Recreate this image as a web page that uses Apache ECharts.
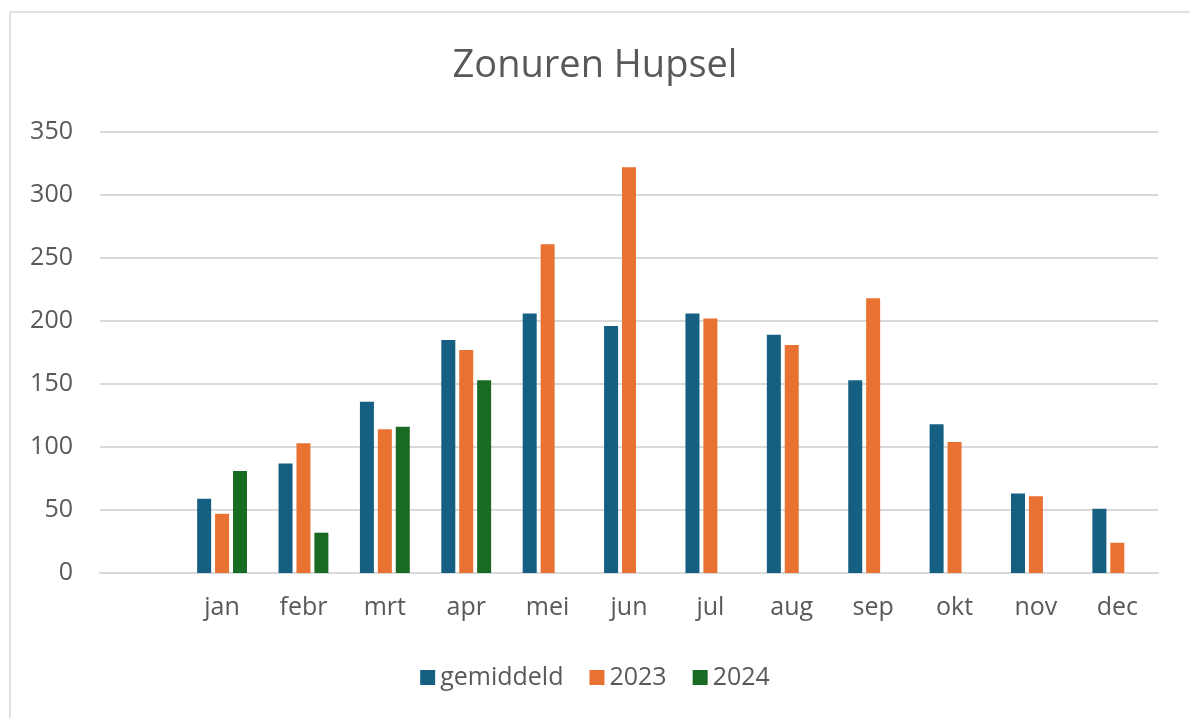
<!DOCTYPE html>
<html lang="nl">
<head>
<meta charset="UTF-8">
<title>Zonuren Hupsel</title>
<style>
html, body { margin: 0; padding: 0; background: #fff; }
#chart { width: 1190px; height: 718px; }
</style>
<script src="https://cdn.jsdelivr.net/npm/echarts@6/dist/echarts.min.js"></script>
</head>
<body>
<div id="chart"></div>
<script>
// maanden (eerste categorie is leeg, zoals in het origineel)
var maanden = ['', 'jan', 'febr', 'mrt', 'apr', 'mei', 'jun', 'jul', 'aug', 'sep', 'okt', 'nov', 'dec'];
var gemiddeld = [null, 59, 87, 136, 185, 206, 196, 206, 189, 153, 118, 63, 51];
var jaar2023 = [null, 47, 103, 114, 177, 261, 322, 202, 181, 218, 104, 61, 24];
var jaar2024 = [null, 81, 32, 116, 153, null, null, null, null, null, null, null, null];
var yTicks = [0, 50, 100, 150, 200, 250, 300, 350];

var grijs = '#595959';
var chart = echarts.init(document.getElementById('chart'));

chart.setOption({
	backgroundColor: '#fff',
	animation: false,
	title: {
		text: 'Zonuren Hupsel',
		left: 'center',
		top: 42,
		textStyle: { color: grijs, fontSize: 38, fontWeight: 'normal', fontFamily: 'Open Sans' }
	},
	legend: {
		top: 660,
		left: 'center',
		icon: 'rect',
		itemWidth: 15,
		itemHeight: 15,
		itemGap: 26,
		textStyle: { color: grijs, fontSize: 25, fontFamily: 'Open Sans' },
		data: ['gemiddeld', '2023', '2024']
	},
	graphic: [{
		type: 'rect',
		shape: { x: 10, y: 12, width: 1200, height: 720 },
		style: { fill: 'none', stroke: '#d9d9d9', lineWidth: 1.5 },
		silent: true
	}],
	grid: { left: 100, right: 32, top: 132, bottom: 145 },
	xAxis: {
		type: 'category',
		data: maanden,
		axisLine: { lineStyle: { color: '#d9d9d9', width: 2 } },
		axisTick: { show: false },
		axisLabel: { color: grijs, fontSize: 25, margin: 22, fontFamily: 'Open Sans' }
	},
	yAxis: {
		type: 'value',
		min: yTicks[0],
		max: yTicks[yTicks.length - 1],
		interval: 50,
		axisLine: { show: false },
		axisTick: { show: false },
		splitLine: { lineStyle: { color: '#d9d9d9', width: 2 } },
		axisLabel: { color: grijs, fontSize: 25, margin: 27, fontFamily: 'Open Sans' }
	},
	series: [
		{ name: 'gemiddeld', type: 'bar', data: gemiddeld, itemStyle: { color: '#156082' }, barWidth: 14, barGap: '28%' },
		{ name: '2023', type: 'bar', data: jaar2023, itemStyle: { color: '#e97132' }, barWidth: 14, barGap: '28%' },
		{ name: '2024', type: 'bar', data: jaar2024, itemStyle: { color: '#196b24' }, barWidth: 14, barGap: '28%' }
	]
});
</script>
</body>
</html>
